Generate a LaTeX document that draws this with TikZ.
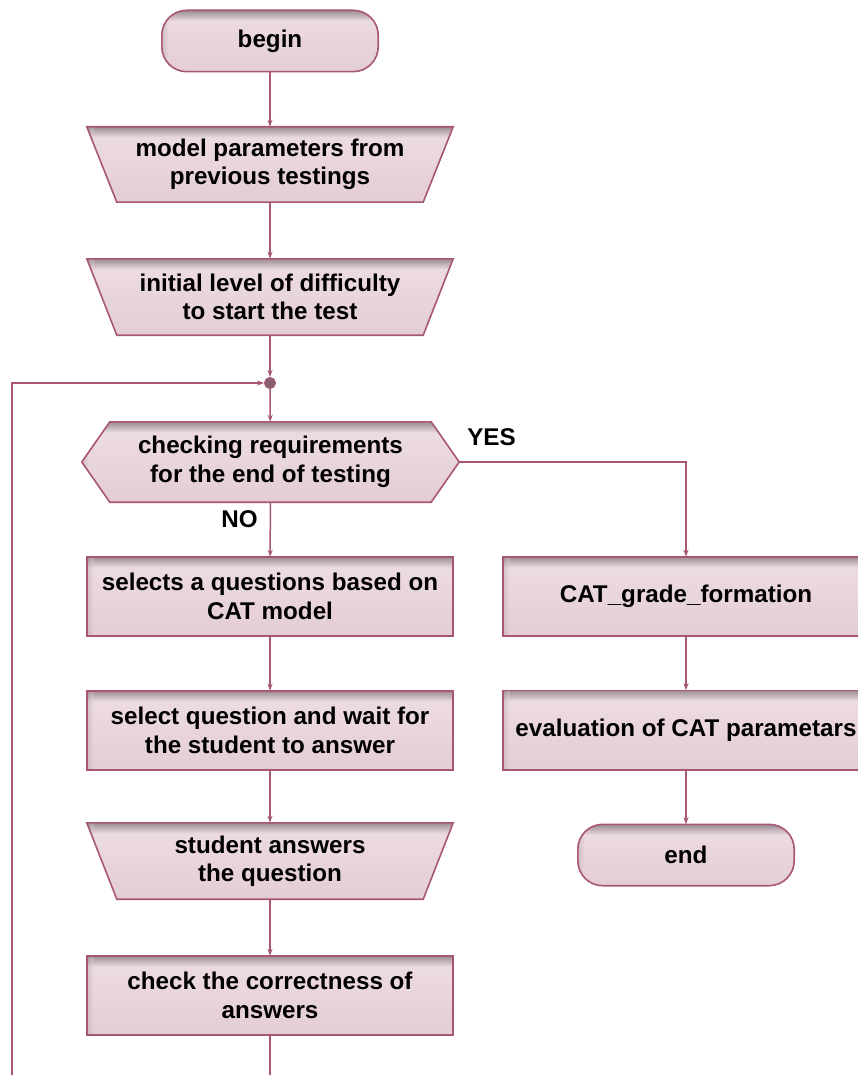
\documentclass[tikz,border=0pt]{standalone}
\usepackage{fontspec}
\setmainfont{Liberation Sans}
\usetikzlibrary{arrows.meta}
\definecolor{ln}{RGB}{168,86,118}
\definecolor{dotc}{RGB}{135,95,112}
\definecolor{pkB}{RGB}{227,204,213}
\definecolor{pkL}{RGB}{238,221,228}
\definecolor{pkG}{RGB}{140,124,132}
\pgfdeclarelayer{bg}
\pgfsetlayers{bg,main}
% draws a pink shaded shape behind node #1 along path #2
\newcommand\pinkshape[2]{%
  \begin{scope}
    \clip #2;
    \shade[top color=pkL, bottom color=pkB] ([xshift=-2pt,yshift=2pt]#1.north west) rectangle ([xshift=2pt,yshift=-2pt]#1.south east);
    \shade[top color=pkG, bottom color=pkL] ([xshift=-2pt,yshift=2pt]#1.north west) rectangle ([xshift=2pt,yshift=-11pt]#1.north east);
    \shade[left color=pkG, right color=pkL, opacity=0.35] ([xshift=-2pt,yshift=2pt]#1.north west) rectangle ([xshift=7pt,yshift=-2pt]#1.south west);
  \end{scope}
  \draw[border] #2;}
\begin{document}
\begin{tikzpicture}[x=1pt,y=-1pt,
  txt/.style={font=\fontsize{24.2}{28.5}\selectfont\bfseries, align=center, text=black, inner sep=0pt},
  holder/.style={txt, rectangle, minimum width=366pt, minimum height=76pt},
  procbox/.style={holder, minimum height=79pt},
  term/.style={holder, minimum width=216pt, minimum height=61pt},
  border/.style={draw=ln, line width=1.6pt, line join=miter},
  conn/.style={draw=ln, line width=1.5pt, -{Stealth[length=7pt,width=5pt]}},
  junction/.style={circle, fill=dotc, draw=ln, line width=1pt, minimum size=11pt, inner sep=0pt}
]
\path[use as bounding box] (0,0) rectangle (858,1075);
\clip (0,0) rectangle (858,1075);

% left column
\node[term] (begin) at (270,41) {begin};
\node[holder, minimum height=75pt] (t1) at (270,164.5) {model parameters from\\previous testings};
\node[holder] (t2) at (270,297) {initial level of difficulty\\to start the test};
\node[junction] (dot) at (270,383) {};
\node[holder, minimum width=377pt, minimum height=80pt] (chk) at (270.5,462) {checking requirements\\for the end of testing};
\node[procbox] (b1) at (270,596.5) {selects a questions based on\\CAT model};
\node[procbox] (b2) at (270,730.5) {select question and wait for\\the student to answer};
\node[holder] (t3) at (270,861) {student answers\\the question};
\node[procbox] (b4) at (270,995.5) {check the correctness of\\answers};

% right column
\node[procbox] (r1) at (686,596.5) {CAT\_grade\_formation};
\node[procbox] (r2) at (686,730) {evaluation of CAT parametars};
\node[term] (end) at (686,855) {end};

% labels
\node[txt] (yes) at (491.5,437) {YES};
\node[txt] (no) at (239.5,519) {NO};

% shapes behind the text
\begin{pgfonlayer}{bg}
\pinkshape{begin}{[rounded corners=25pt] (begin.north west) rectangle (begin.south east)}
\pinkshape{end}{[rounded corners=25pt] (end.north west) rectangle (end.south east)}
\pinkshape{t1}{(t1.north west) -- (t1.north east) -- ([xshift=-30pt]t1.south east) -- ([xshift=30pt]t1.south west) -- cycle}
\pinkshape{t2}{(t2.north west) -- (t2.north east) -- ([xshift=-30pt]t2.south east) -- ([xshift=30pt]t2.south west) -- cycle}
\pinkshape{t3}{(t3.north west) -- (t3.north east) -- ([xshift=-30pt]t3.south east) -- ([xshift=30pt]t3.south west) -- cycle}
\pinkshape{chk}{(chk.west) -- ([xshift=28pt]chk.north west) -- ([xshift=-28pt]chk.north east) -- (chk.east) -- ([xshift=-28pt]chk.south east) -- ([xshift=28pt]chk.south west) -- cycle}
\pinkshape{b1}{(b1.north west) rectangle (b1.south east)}
\pinkshape{b2}{(b2.north west) rectangle (b2.south east)}
\pinkshape{b4}{(b4.north west) rectangle (b4.south east)}
\pinkshape{r1}{(r1.north west) rectangle (r1.south east)}
\pinkshape{r2}{(r2.north west) rectangle (r2.south east)}
\end{pgfonlayer}

% loop coordinates
\coordinate (bb) at (270,1100);
\coordinate (lb) at (12,1100);
\coordinate (lt) at (12,383);

% connectors
\draw[conn] (begin) -- (t1);
\draw[conn] (t1) -- (t2);
\draw[conn] (t2) -- (dot);
\draw[conn] (dot) -- (chk);
\draw[conn] (chk) -- (b1);
\draw[conn] (b1) -- (b2);
\draw[conn] (b2) -- (t3);
\draw[conn] (t3) -- (b4);
\draw[conn] (b4.south) -- (bb) -- (lb) -- (lt) -- (dot);
\draw[conn] (chk.east) -| (r1.north);
\draw[conn] (r1) -- (r2);
\draw[conn] (r2) -- (end);
\end{tikzpicture}
\end{document}
